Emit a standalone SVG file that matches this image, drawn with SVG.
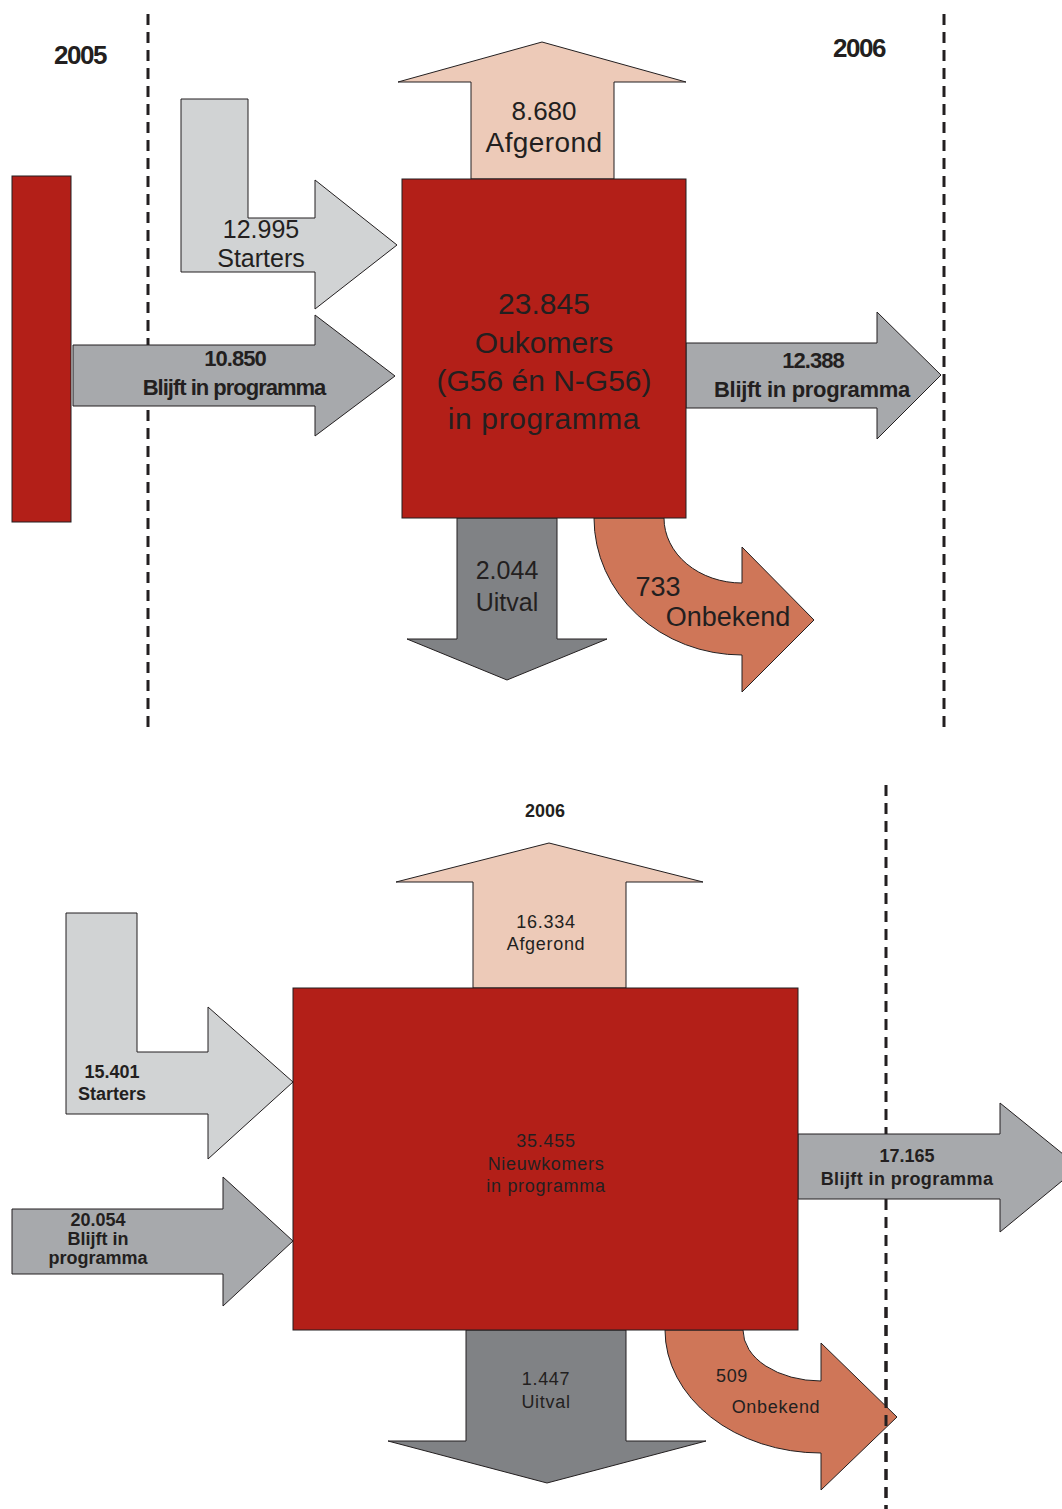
<svg xmlns="http://www.w3.org/2000/svg" width="1062" height="1509" viewBox="0 0 1062 1509">
<style>
.sh{stroke:#231f20;stroke-width:1;stroke-linejoin:miter}
.red{fill:#b31f18}
.pink{fill:#edcab8}
.lg{fill:#d1d3d4}
.mg{fill:#a7a9ac}
.dg{fill:#808285}
.or{fill:#cf7658}
.dash{stroke:#231f20;stroke-width:3;stroke-dasharray:11 7;fill:none}
text{font-family:"Liberation Sans",Arial,sans-serif;fill:#231f20;text-anchor:middle}
.t1{font-size:25px}
.t1b{font-size:22px;font-weight:bold;letter-spacing:-1px}
.yr{font-size:26px;font-weight:bold;letter-spacing:-1.5px}
.big{font-size:30px}
.t2{font-size:18px;letter-spacing:0.7px}
.t2b{font-size:18px;font-weight:bold}
</style>

<g id="guides">
<line class="dash" x1="148" y1="14" x2="148" y2="731"/>
<line class="dash" x1="944" y1="14" x2="944" y2="731"/>
<line class="dash" x1="886" y1="785" x2="886" y2="1509"/>
</g>

<g id="connectors">
<g id="top-starters">
<polygon class="sh lg" points="181,99 248,99 248,218 315,218 315,180 397,245 315,309 315,272 181,272"/>
<text class="t1" x="261" y="238">12.995</text>
<text class="t1" x="261" y="267">Starters</text>
</g>
<g id="top-blijft-in">
<polygon class="sh mg" points="73,345 315,345 315,315 395,376 315,436 315,406 73,406"/>
<text class="t1b" x="235" y="366">10.850</text>
<text class="t1b" x="234" y="395">Blijft in programma</text>
</g>
<g id="top-afgerond">
<polygon class="sh pink" points="471,179 471,82 398,82 542,42 686,82 614,82 614,179"/>
<text class="t1" style="font-size:26px" x="544" y="120">8.680</text>
<text class="t1" style="font-size:28px;letter-spacing:0.4px" x="544" y="152">Afgerond</text>
</g>
<g id="top-blijft-out">
<polygon class="sh mg" points="686,343 877,343 877,312 941,375 877,439 877,408 686,408"/>
<text class="t1b" x="813" y="368">12.388</text>
<text class="t1b" style="letter-spacing:-0.3px" x="812" y="397">Blijft in programma</text>
</g>
<g id="top-uitval">
<polygon class="sh dg" points="457,518 557,518 557,639 607,639 507,680 407,639 457,639"/>
<text class="t1" x="507" y="579">2.044</text>
<text class="t1" x="507" y="611">Uitval</text>
</g>
<g id="top-onbekend">
<path class="sh or" d="M594,518 A148,137 0 0 0 742,655 L742,692 L814,620 L742,547 L742,583 A78,65 0 0 1 664,518 Z"/>
<text class="t1" style="font-size:27px" x="658" y="596">733</text>
<text class="t1" style="font-size:27px" x="728" y="626">Onbekend</text>
</g>

<g id="bot-starters">
<polygon class="sh lg" points="66,913 137,913 137,1052 208,1052 208,1007 293,1082 208,1159 208,1114 66,1114"/>
<text class="t2b" x="112" y="1078">15.401</text>
<text class="t2b" x="112" y="1100">Starters</text>
</g>
<g id="bot-blijft-in">
<polygon class="sh mg" points="12,1209 223,1209 223,1177 293,1241 223,1306 223,1274 12,1274"/>
<text class="t2b" x="98" y="1226">20.054</text>
<text class="t2b" x="98" y="1245">Blijft in</text>
<text class="t2b" x="98" y="1264">programma</text>
</g>
<g id="bot-afgerond">
<polygon class="sh pink" points="473,988 473,882 396,882 549,843 703,882 626,882 626,988"/>
<text class="t2" x="546" y="928">16.334</text>
<text class="t2" x="546" y="950">Afgerond</text>
</g>
<g id="bot-uitval">
<polygon class="sh dg" points="466,1330 626,1330 626,1441 706,1441 547,1483 388,1441 466,1441"/>
<text class="t2" x="546" y="1385">1.447</text>
<text class="t2" x="546" y="1408">Uitval</text>
</g>
<g id="bot-onbekend">
<path class="sh or" d="M665,1330 A156,123 0 0 0 821,1453 L821,1490 L897,1417 L821,1343 L821,1381 A78,51 0 0 1 743,1330 Z"/>
<text class="t2" x="732" y="1382">509</text>
<text class="t2" x="776" y="1413">Onbekend</text>
</g>
</g>

<g id="guide-overlay">
<line class="dash" style="stroke-dashoffset:11" x1="886" y1="1300" x2="886" y2="1509"/>
</g>

<g id="connectors-over">
<g id="bot-blijft-out">
<polygon class="sh mg" points="798,1134 1000,1134 1000,1103 1079,1167 1000,1232 1000,1199 798,1199"/>
<text class="t2b" x="907" y="1162">17.165</text>
<text class="t2b" style="letter-spacing:0.4px" x="907" y="1185">Blijft in programma</text>
</g>
</g>

<g id="node-2005-bar">
<rect class="sh red" x="12" y="176" width="59" height="346"/>
</g>
<g id="node-top-main">
<rect class="sh red" x="402" y="179" width="284" height="339"/>
<text class="big" x="544" y="314">23.845</text>
<text class="big" x="544" y="353">Oukomers</text>
<text class="big" x="544" y="391">(G56 én N-G56)</text>
<text class="big" style="letter-spacing:0.6px" x="544" y="429">in programma</text>
</g>
<g id="node-bot-main">
<rect class="sh red" x="293" y="988" width="505" height="342"/>
<text class="t2" x="546" y="1147">35.455</text>
<text class="t2" x="546" y="1170">Nieuwkomers</text>
<text class="t2" x="546" y="1192">in programma</text>
</g>

<g id="labels">
<text class="yr" x="80" y="64">2005</text>
<text class="yr" x="859" y="57">2006</text>
<text class="t2b" x="545" y="817">2006</text>
</g>
</svg>
